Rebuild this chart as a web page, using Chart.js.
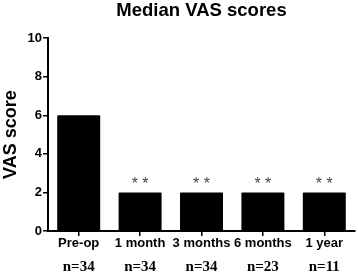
<!DOCTYPE html>
<html>
<head>
<meta charset="utf-8">
<script src="https://cdn.jsdelivr.net/npm/chart.js@4"></script>
<style>
  html, body { margin: 0; padding: 0; background: #fff; }
  #wrap { width: 358px; height: 273px; }
</style>
</head>
<body>
<div id="wrap"><canvas id="vasChart" width="358" height="273"></canvas></div>
<script>
// datos
const categorias = ['Pre-op', '1 month', '3 months', '6 months', '1 year'];
const medianas = [6, 2, 2, 2, 2];
const tamanos = ['n=34', 'n=34', 'n=34', 'n=23', 'n=11'];
const signif = ['', '**', '**', '**', '**'];
const ticksY = [0, 2, 4, 6, 8, 10];

// textos extra: n= debajo de cada etiqueta y ** sobre las barras
const extraTextos = {
    id: 'extraTextos',
    afterDraw(chart) {
        const ctx = chart.ctx;
        const x = chart.scales.x;
        const y = chart.scales.y;
        ctx.save();
        ctx.textAlign = 'center';
        ctx.textBaseline = 'middle';
        ctx.fillStyle = '#000';
        ctx.font = 'bold 15px "Liberation Serif", "Times New Roman", serif';
        tamanos.forEach((t, i) => {
            ctx.fillText(t, x.getPixelForValue(i), chart.chartArea.bottom + 36);
        });
        ctx.fillStyle = '#444';
        ctx.font = '16px "Liberation Sans", Arial, sans-serif';
        signif.forEach((s, i) => {
            if (!s) return;
            ctx.fillText(s.split('').join(' '), x.getPixelForValue(i), y.getPixelForValue(medianas[i]) - 8);
        });
        ctx.restore();
    }
};

const ctx = document.getElementById('vasChart').getContext('2d');
new Chart(ctx, {
    type: 'bar',
    data: {
        labels: categorias,
        datasets: [{
            data: medianas,
            backgroundColor: '#000',
            borderRadius: 1,
            barPercentage: 0.7,
            categoryPercentage: 1
        }]
    },
    options: {
        responsive: false,
        animation: false,
        layout: { padding: { left: 0, right: 3, top: 0, bottom: 0 } },
        plugins: {
            legend: { display: false },
            tooltip: { enabled: false },
            title: {
                display: true,
                text: 'Median VAS scores',
                fullSize: false,
                color: '#000',
                font: { family: '"Liberation Sans", Arial, sans-serif', size: 18.5, weight: 'bold' },
                padding: { top: 0, bottom: 16 }
            }
        },
        scales: {
            x: {
                afterFit: s => { s.height = 42; },
                border: { color: '#000', width: 2 },
                grid: { display: true, drawOnChartArea: false, offset: false, color: '#000', lineWidth: 1.5, tickLength: 5 },
                ticks: {
                    color: '#000',
                    padding: 0,
                    maxRotation: 0,
                    autoSkip: false,
                    font: { family: '"Liberation Sans", Arial, sans-serif', size: 13, weight: 'bold' }
                }
            },
            y: {
                min: 0,
                max: 10,
                afterFit: s => { s.width = 48; },
                afterBuildTicks: s => { s.ticks = ticksY.map(v => ({ value: v })); },
                border: { color: '#000', width: 2 },
                grid: { display: true, drawOnChartArea: false, color: '#000', lineWidth: 1.5, tickLength: 5 },
                title: {
                    display: true,
                    text: 'VAS score',
                    color: '#000',
                    padding: 0,
                    font: { family: '"Liberation Sans", Arial, sans-serif', size: 18, weight: 'bold' }
                },
                ticks: {
                    color: '#000',
                    padding: 1,
                    font: { family: '"Liberation Sans", Arial, sans-serif', size: 13, weight: 'bold' }
                }
            }
        }
    },
    plugins: [extraTextos]
});
</script>
</body>
</html>
